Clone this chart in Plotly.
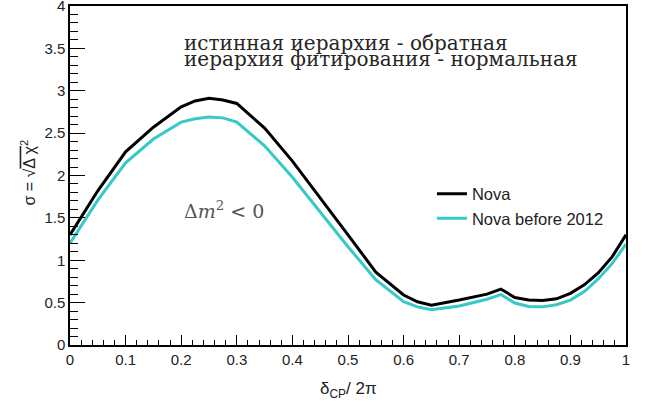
import plotly.graph_objects as go

# delta_CP / 2pi sample points
delta_cp = [0.0, 0.05, 0.1, 0.15, 0.2, 0.225, 0.25, 0.275, 0.3, 0.35, 0.4, 0.45,
            0.5, 0.55, 0.6, 0.625, 0.65, 0.7, 0.75, 0.775, 0.8, 0.825, 0.85,
            0.875, 0.9, 0.925, 0.95, 0.975, 1.0]

# sigma = sqrt(delta chi^2)
sigma_nova = [1.30, 1.82, 2.28, 2.57, 2.81, 2.88, 2.91, 2.89, 2.85, 2.56, 2.17, 1.74,
              1.30, 0.86, 0.59, 0.51, 0.47, 0.53, 0.60, 0.66, 0.56, 0.53, 0.525,
              0.545, 0.61, 0.71, 0.85, 1.04, 1.30]
sigma_nova_2012 = [1.20, 1.71, 2.15, 2.43, 2.63, 2.67, 2.69, 2.68, 2.63, 2.35, 1.98, 1.57,
                   1.16, 0.77, 0.51, 0.45, 0.415, 0.46, 0.54, 0.595, 0.495, 0.455, 0.45,
                   0.475, 0.53, 0.63, 0.78, 0.96, 1.19]

series_names = ["Nova", "Nova before 2012"]
line_colors = ["#000000", "#37c8c8"]

info_lines = ["истинная иерархия - обратная", "иерархия фитирования - нормальная"]

fig = go.Figure()
for name, ys, col in zip(series_names, [sigma_nova, sigma_nova_2012], line_colors):
    fig.add_trace(go.Scatter(x=delta_cp, y=ys, mode="lines", name=name,
                             line=dict(color=col, width=3)))

sans = "Liberation Sans, Arial, sans-serif"
axis_font = dict(family=sans, size=15, color="#222")

fig.update_xaxes(range=[0, 1], dtick=0.1, tick0=0, ticks="inside", ticklen=10,
                 tickwidth=1.2, tickcolor="#000", showline=True, mirror=True,
                 linecolor="#000", linewidth=1.5, showgrid=False, zeroline=False,
                 tickfont=axis_font, ticklabeloverflow="allow", automargin=False,
                 minor=dict(dtick=0.02, ticks="inside", ticklen=5, tickcolor="#000",
                            tickwidth=1, showgrid=False))
fig.update_yaxes(range=[0, 4], dtick=0.5, tick0=0, ticks="inside", ticklen=15,
                 tickwidth=1.2, tickcolor="#000", showline=True, mirror=True,
                 linecolor="#000", linewidth=1.5, showgrid=False, zeroline=False,
                 tickfont=axis_font, ticklabeloverflow="allow", automargin=False,
                 minor=dict(dtick=0.1, ticks="inside", ticklen=8, tickcolor="#000",
                            tickwidth=1, showgrid=False))

serif_box = dict(family="DejaVu Serif, serif", size=20, color="#262626")

annotations = [
    dict(text=info_lines[0], x=0.201, y=0.892, xref="paper", yref="paper",
         xanchor="left", yanchor="middle", showarrow=False, font=serif_box),
    dict(text=info_lines[1], x=0.201, y=0.843, xref="paper", yref="paper",
         xanchor="left", yanchor="middle", showarrow=False, font=serif_box),
    dict(text="Δ<i>m</i><sup>2</sup> < 0", x=0.277, y=0.397, xref="paper", yref="paper",
         xanchor="center", yanchor="middle", showarrow=False,
         font=dict(family="DejaVu Serif, serif", size=19, color="#555")),
    dict(text="σ = √<span style='text-decoration:overline'>Δ χ</span><sup>2</sup>",
         x=-0.076, y=0.508, xref="paper", yref="paper", textangle=-90,
         xanchor="center", yanchor="middle", showarrow=False,
         font=dict(family=sans, size=16, color="#222")),
    dict(text="δ<sub>CP</sub>/ 2π", x=0.5, y=-0.095, xref="paper", yref="paper",
         xanchor="center", yanchor="top", showarrow=False,
         font=dict(family=sans, size=17, color="#222")),
]

fig.update_layout(
    width=651, height=406,
    margin=dict(l=70, r=25, t=6, b=61, autoexpand=False),
    paper_bgcolor="white", plot_bgcolor="white",
    showlegend=True,
    legend=dict(x=0.651, y=0.41, xanchor="left", yanchor="middle",
                bgcolor="rgba(0,0,0,0)", itemwidth=30, tracegroupgap=0,
                font=dict(family=sans, size=16.5, color="#222")),
    annotations=annotations,
)

fig.write_html("out.html")
